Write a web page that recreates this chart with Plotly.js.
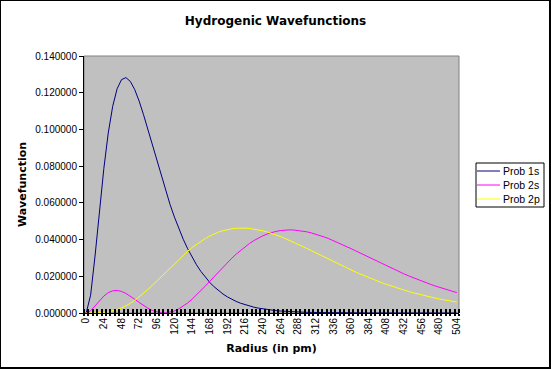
<!DOCTYPE html>
<html>
<head>
<meta charset="utf-8">
<script src="https://cdn.plot.ly/plotly-3.0.1.min.js"></script>
<style>
  html, body { margin: 0; padding: 0; background: #ffffff; }
  #wrap { position: relative; width: 551px; height: 369px; }
  #chart { width: 551px; height: 369px; }
  #frame { position: absolute; left: 0; top: 0; width: 551px; height: 369px; box-sizing: border-box;
           border-top: 1px solid #000; border-left: 1px solid #000; border-right: 2px solid #000; border-bottom: 2px solid #000;
           pointer-events: none; }
</style>
</head>
<body>
<div id="wrap"><div id="chart"></div><div id="frame"></div></div>
<script>
// Radius categories (pm)
const radius = [0,6,12,18,24,30,36,42,48,54,60,66,72,78,84,90,96,102,108,114,120,126,132,138,144,150,156,162,168,174,180,186,192,198,204,210,216,222,228,234,240,246,252,258,264,270,276,282,288,294,300,306,312,318,324,330,336,342,348,354,360,366,372,378,384,390,396,402,408,414,420,426,432,438,444,450,456,462,468,474,480,486,492,498,504];

const prob1s = [0,0.00972,0.03099,0.05557,0.07875,0.09807,0.11255,0.12210,0.12712,0.12823,
  0.12617,0.12168,0.11543,0.10798,0.09979,0.09132,0.08283,0.07451,0.06658,0.05913,
  0.05224,0.04590,0.04015,0.03498,0.03036,0.02626,0.02263,0.01945,0.01667,0.01426,
  0.01216,0.01035,0.00879,0.00745,0.00630,0.00532,0.00449,0.00377,0.00317,0.00267,
  0.00224,0.00187,0.00157,0.00131,0.00109,0.00091,0.00076,0.00063,0.00052,0.00044,
  0.00036,0.00030,0.00025,0.00021,0.00017,0.00014,0.00012,0.000096,0.000079,0.000065,
  0.000054,0.000044,0.000037,0.000030,0.000025,0.000020,0.000017,0.000014,0.000011,0.0000092,
  0.0000076,0.0000062,0.0000051,0.0000042,0.0000034,0.0000028,0.0000023,0.0000019,0.0000015,0.0000012,
  0.0000010,0.0000008,0.0000007,0.0000006,0.0000005];

const prob2s = [0,0.001211,0.003820,0.006723,0.009262,0.011095,0.012094,0.012279,0.011751,0.010664,
  0.009189,0.007496,0.005744,0.004071,0.002592,0.001396,0.000545,0.000083,0.000028,0.000383,
  0.001136,0.002263,0.003730,0.005498,0.007523,0.009757,0.012153,0.014664,0.017244,0.019858,
  0.022456,0.025008,0.027488,0.029852,0.032091,0.034196,0.036114,0.037859,0.039436,0.040816,
  0.042018,0.043016,0.043823,0.044446,0.044888,0.045153,0.045259,0.045211,0.045016,0.044679,
  0.044231,0.043654,0.042976,0.042218,0.041367,0.040460,0.039468,0.038433,0.037353,0.036240,
  0.035100,0.033943,0.032765,0.031580,0.030392,0.029208,0.028032,0.026868,0.025719,0.024590,
  0.023482,0.022399,0.021342,0.020314,0.019316,0.018348,0.017412,0.016507,0.015636,0.014798,
  0.013993,0.013221,0.012482,0.011774,0.011098];

const prob2p = [0,0.0000015,0.000021,0.000094,0.000266,0.000579,0.001072,0.001774,0.002701,0.003863,
  0.005256,0.006871,0.008687,0.010683,0.012828,0.015092,0.017443,0.019845,0.022269,0.024681,
  0.027051,0.029356,0.031567,0.033667,0.035637,0.037458,0.039123,0.040618,0.041936,0.043089,
  0.044052,0.044838,0.045460,0.045892,0.046165,0.046299,0.046249,0.046063,0.045762,0.045329,
  0.044797,0.044146,0.043401,0.042572,0.041668,0.040696,0.039672,0.038603,0.037493,0.036345,
  0.035186,0.034007,0.032810,0.031612,0.030413,0.029219,0.028036,0.026865,0.025713,0.024580,
  0.023470,0.022386,0.021329,0.020300,0.019302,0.018334,0.017400,0.016497,0.015627,0.014790,
  0.013987,0.013216,0.012478,0.011772,0.011097,0.010454,0.009841,0.009257,0.008702,0.008175,
  0.007675,0.007201,0.006752,0.006328,0.005927];

const seriesNames = ["Prob 1s", "Prob 2s", "Prob 2p"];
const seriesColors = ["#000080", "#ff00ff", "#ffff00"];
const xTickLabels = ["0","24","48","72","96","120","144","168","192","216","240","264","288","312","336","360","384","408","432","456","480","504"];
const yTickLabels = ["0.000000","0.020000","0.040000","0.060000","0.080000","0.100000","0.120000","0.140000"];

const xTickVals = xTickLabels.map(Number);
const yTickVals = yTickLabels.map(Number);
const seriesData = [prob1s, prob2s, prob2p];

const traces = seriesData.map((ys, k) => ({
  type: "scatter", mode: "lines", x: radius, y: ys, name: seriesNames[k],
  line: { color: seriesColors[k], width: 1 }, xaxis: "x", yaxis: "y", showlegend: false
}));
// helper (empty) trace so the overlaid tick axis is drawn
traces.push({ type: "scatter", mode: "lines", x: [], y: [], xaxis: "x2", yaxis: "y", showlegend: false, hoverinfo: "skip" });

const W = 551, H = 369, ML = 84, MR = 92, MT = 56, MB = 56;
const plotW = W - ML - MR, plotH = H - MT - MB;
const px = (x) => (x - ML) / plotW;       // pixel -> paper x
const py = (y) => (H - MB - y) / plotH;   // pixel -> paper y

const tickFont = { family: "Liberation Sans, Arial, sans-serif", size: 10, color: "#000" };
const boldFont = { family: "DejaVu Sans, sans-serif", size: 11, color: "#000", weight: "bold" };

const step = radius[1] - radius[0];
const xRange = [radius[0] - step / 2, radius[radius.length - 1] + step / 2];

// custom legend box (Excel style, narrow)
const legendShapes = [{ type: "rect", xref: "paper", yref: "paper", x0: px(476), x1: px(544), y0: py(207), y1: py(163),
  fillcolor: "#ffffff", line: { color: "#000", width: 1 }, layer: "above" }];
const legendAnn = [];
const rowY = [171, 185, 199];
seriesNames.forEach((nm, k) => {
  legendShapes.push({ type: "line", xref: "paper", yref: "paper", x0: px(477), x1: px(500), y0: py(rowY[k]), y1: py(rowY[k]),
    line: { color: seriesColors[k], width: 1 }, layer: "above" });
  legendAnn.push({ xref: "paper", yref: "paper", x: px(501), y: py(rowY[k]), xanchor: "left", yanchor: "middle",
    text: nm, showarrow: false, font: { family: "Liberation Sans, Arial, sans-serif", size: 10.5, color: "#000" } });
});

const layout = {
  width: W, height: H,
  margin: { l: ML, r: MR, t: MT, b: MB, pad: 0, autoexpand: false },
  paper_bgcolor: "#ffffff", plot_bgcolor: "#c0c0c0",
  title: { text: "<b>Hydrogenic Wavefunctions</b>", font: { family: "DejaVu Sans, sans-serif", size: 12, color: "#000" },
           x: 0.5, xref: "container", xanchor: "center", y: 1 - 21 / H, yref: "container", yanchor: "middle" },
  showlegend: false,
  xaxis: {
    range: xRange, autorange: false, tickmode: "array", tickvals: xTickVals, ticktext: xTickLabels,
    tickangle: -90, tickfont: tickFont, ticks: "", showgrid: false, zeroline: false,
    showline: true, linecolor: "#000", linewidth: 1,
    minor: { tick0: radius[0] - step / 2, dtick: step, ticks: "inside", ticklen: 4, tickwidth: 2, tickcolor: "#000", showgrid: false },
    title: { text: "<b>Radius (in pm)</b>", font: boldFont, standoff: 10 }
  },
  xaxis2: {
    overlaying: "x", matches: "x", anchor: "y", side: "bottom", range: xRange, autorange: false,
    tickmode: "linear", tick0: radius[0] - step / 2, dtick: step, ticks: "outside", ticklen: 2, tickwidth: 2, tickcolor: "#000",
    showticklabels: false, showgrid: false, zeroline: false, showline: false
  },
  yaxis: {
    range: [0, 0.14], autorange: false, tickmode: "array", tickvals: yTickVals, ticktext: yTickLabels,
    tickfont: tickFont, ticks: "outside", ticklen: 4, tickwidth: 1, tickcolor: "#000",
    showgrid: false, zeroline: false, showline: true, linecolor: "#000", linewidth: 1,
    title: { text: "<b>Wavefunction</b>", font: boldFont, standoff: 6 }
  },
  shapes: [{ type: "rect", xref: "paper", yref: "paper", x0: 0, x1: 1, y0: 0, y1: 1, line: { color: "#808080", width: 1 }, layer: "below" }]
    .concat(legendShapes),
  annotations: legendAnn
};

Plotly.newPlot("chart", traces, layout, { displayModeBar: false, staticPlot: true });
</script>
</body>
</html>
